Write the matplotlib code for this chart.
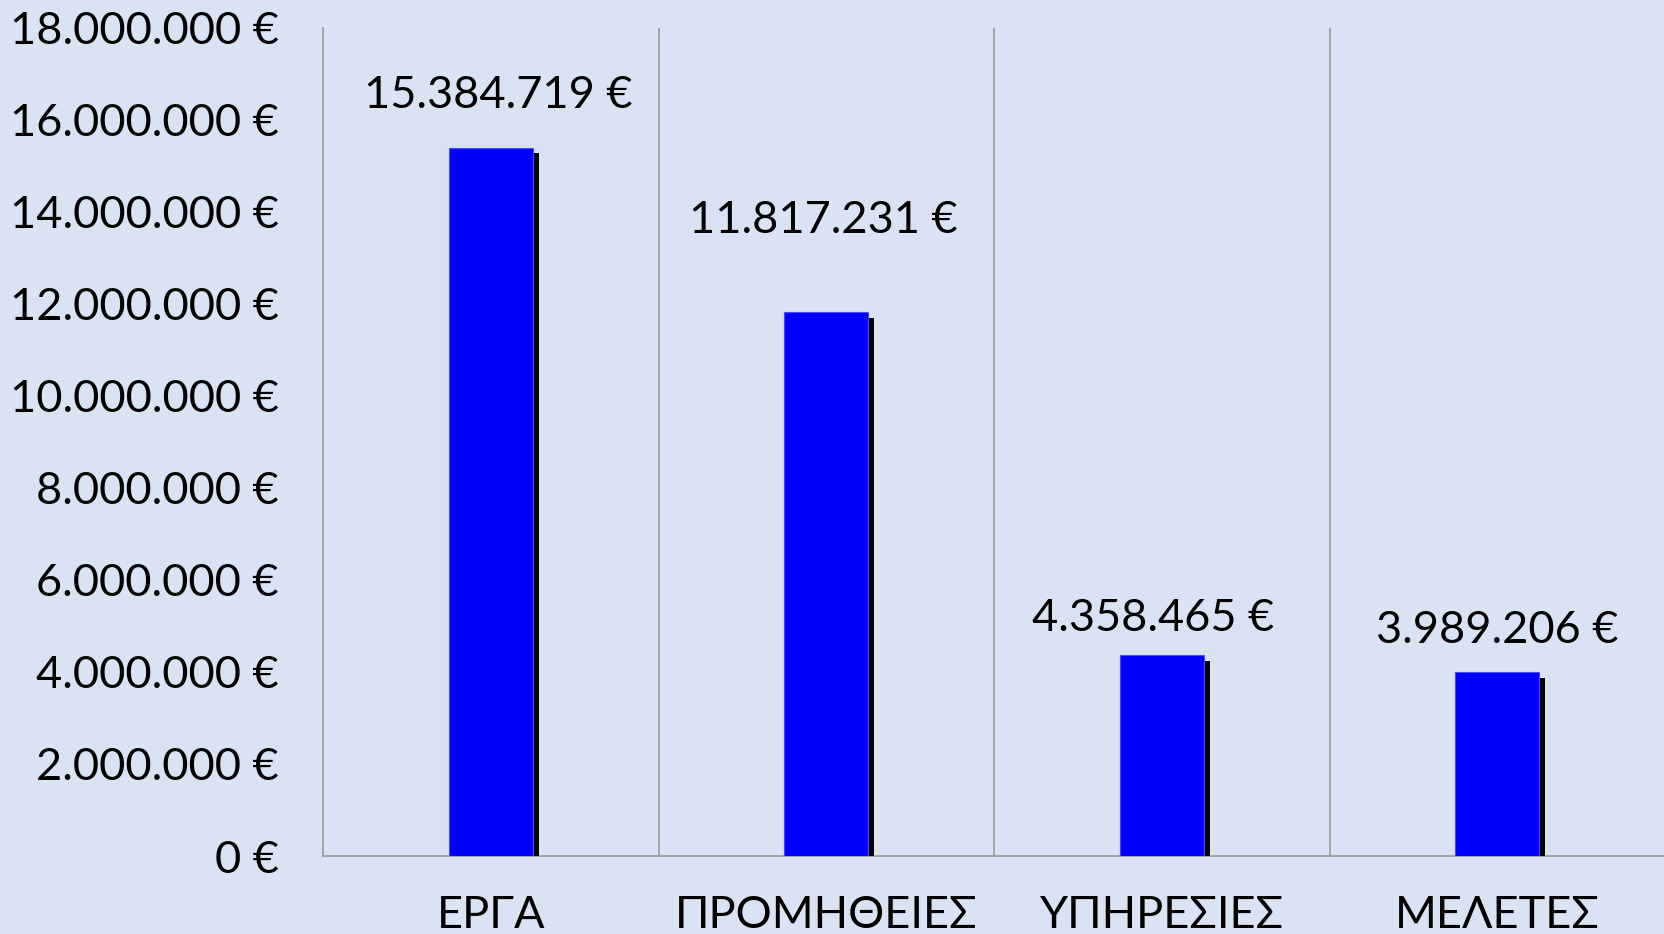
import matplotlib
matplotlib.use("Agg")
import matplotlib.pyplot as plt
import matplotlib.patheffects as pe
from matplotlib.ticker import FuncFormatter

categories = ["ΕΡΓΑ", "ΠΡΟΜΗΘΕΙΕΣ", "ΥΠΗΡΕΣΙΕΣ", "ΜΕΛΕΤΕΣ"]
values = [15384719, 11817231, 4358465, 3989206]
value_labels = ["15.384.719 €", "11.817.231 €", "4.358.465 €", "3.989.206 €"]
yticks = [0, 2000000, 4000000, 6000000, 8000000, 10000000, 12000000, 14000000, 16000000, 18000000]

plt.rcParams['font.family'] = ['Lato', 'DejaVu Sans']
BG = '#DAE3F3'
FS = 32.5

fig = plt.figure(figsize=(16.65, 9.34), dpi=100, facecolor=BG)
ax = fig.add_axes([0.194, 0.0835, 0.806, 0.887], facecolor=BG)

x = list(range(len(categories)))
bars = ax.bar(x, values, width=0.25, color='#0000FF', edgecolor='#4A4AFF', linewidth=0.8, zorder=3)
for b in bars:
    b.set_path_effects([pe.SimplePatchShadow(offset=(4.4, -4.0), shadow_rgbFace='black', alpha=1.0), pe.Normal()])

ax.set_xlim(-0.5, len(categories) - 0.5)
ax.set_ylim(0, 18000000)
ax.set_yticks(yticks)
ax.yaxis.set_major_formatter(FuncFormatter(lambda v, p: (f"{int(v):,}".replace(",", ".") + " €")))
ax.set_xticks(x)
ax.set_xticklabels(categories)
ax.tick_params(axis='both', length=0, labelsize=FS, colors='black')
ax.tick_params(axis='y', pad=32)
ax.tick_params(axis='x', pad=28)

# category separators
for b in [0.5, 1.5, 2.5]:
    ax.axvline(b, color='#9A9A9A', linewidth=1.2, zorder=1)

for s in ['top', 'right']:
    ax.spines[s].set_visible(False)
ax.spines['left'].set_color('#9A9A9A')
ax.spines['left'].set_linewidth(1.2)
ax.spines['bottom'].set_color('#9A9A9A')
ax.spines['bottom'].set_linewidth(1.2)

# value labels (manually placed above bars as in source)
offsets = [(7, 52), (-3, 92), (-9, 37), (0, 42)]
for xi, v, lab, (dx, dy) in zip(x, values, value_labels, offsets):
    ax.annotate(lab, (xi, v), xytext=(dx * 0.72, dy * 0.72), textcoords='offset points',
                ha='center', va='center', fontsize=FS, color='black', annotation_clip=False)

fig.savefig("out.png", dpi=100, facecolor=BG)
